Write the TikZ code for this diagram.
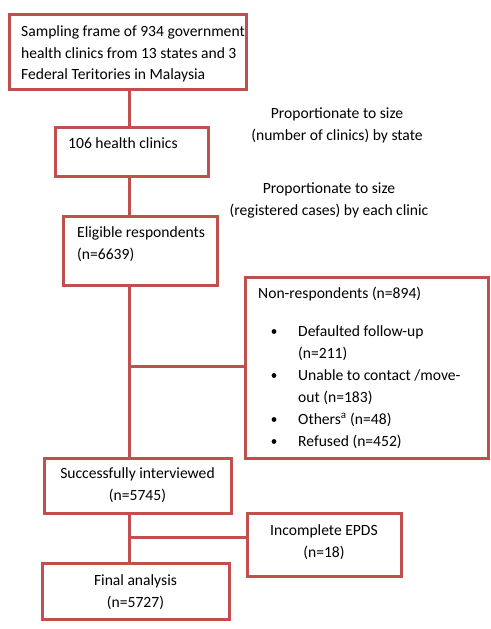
\documentclass[tikz,border=0pt]{standalone}
\usepackage{fontspec}
\setmainfont{Carlito}
\definecolor{boxred}{RGB}{192,80,77}
\begin{document}
\begin{tikzpicture}[x=1pt,y=-1pt,
  box/.style={draw=boxred,line width=3pt,rectangle,inner sep=0pt},
  conn/.style={draw=boxred,line width=3pt},
  txt/.style={inner sep=0pt,font=\fontsize{15.6pt}{21.5pt}\selectfont},
  bl/.style={txt,anchor=base west},
  bc/.style={txt,anchor=base}]
\useasboundingbox (0,0) rectangle (490,629);
% boxes
\node[box,minimum width=237pt,minimum height=75pt] (b1) at (127.5,51.5) {};
\node[box,minimum width=153pt,minimum height=49pt] (b2) at (131.5,151.5) {};
\node[box,minimum width=154pt,minimum height=69pt] (b3) at (140,250.5) {};
\node[box,minimum width=243pt,minimum height=181pt] (nr) at (366.5,367.5) {};
\node[box,minimum width=187pt,minimum height=55pt] (b4) at (137.5,485.5) {};
\node[box,minimum width=154pt,minimum height=63pt] (ie) at (324,544.5) {};
\node[box,minimum width=187pt,minimum height=56pt] (b6) at (135.5,591) {};
% junctions
\coordinate (j1) at (129,366);
\coordinate (j2) at (129,537);
% connectors
\draw[conn] (129,89) -- (129,127);
\draw[conn] (129,176) -- (129,216);
\draw[conn] (129,285) -- (129,458);
\draw[conn] (j1) -- (nr.west |- j1);
\draw[conn] (129,513) -- (129,563);
\draw[conn] (j2) -- (ie.west |- j2);
% texts
\node[bl] at (21,36) {Sampling frame of 934 government};
\node[bl] at (21,58) {health clinics from 13 states and 3};
\node[bl] at (21,79) {Federal Teritories in Malaysia};
\node[bc] at (337,118) {Proportionate to size};
\node[bc] at (337,140) {(number of clinics) by state};
\node[bl] at (68,148) {106 health clinics};
\node[bc] at (329,193) {Proportionate to size};
\node[bc] at (329,215) {(registered cases) by each clinic};
\node[bl] at (77,237) {Eligible respondents};
\node[bl] at (77,259) {(n=6639)};
\node[bl] at (258,298) {Non-respondents (n=894)};
\foreach \y in {336,380,424,446} \fill (274,\y-4.5) circle (2.4pt);
\node[bl] at (298,336) {Defaulted follow-up};
\node[bl] at (298,358) {(n=211)};
\node[bl] at (298,380) {Unable to contact /move-};
\node[bl] at (298,402) {out (n=183)};
\node[bl] at (298,424) {Others\textsuperscript{a} (n=48)};
\node[bl] at (298,446) {Refused (n=452)};
\node[bc] at (137.5,478) {Successfully interviewed};
\node[bc] at (137.5,500) {(n=5745)};
\node[bc] at (324,535) {Incomplete EPDS};
\node[bc] at (324,557) {(n=18)};
\node[bc] at (135.5,585) {Final analysis};
\node[bc] at (135.5,607) {(n=5727)};
\end{tikzpicture}
\end{document}
